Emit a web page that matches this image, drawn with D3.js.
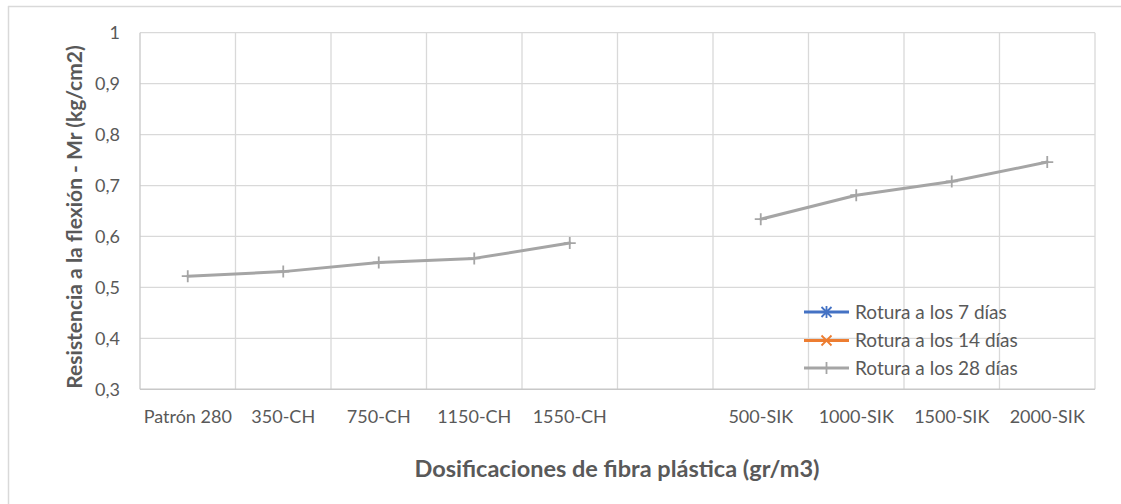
<!DOCTYPE html>
<html>
<head>
<meta charset="utf-8">
<script src="https://cdn.jsdelivr.net/npm/d3@7"></script>
<style>
  html, body { margin: 0; padding: 0; background: #ffffff; }
  svg { display: block; font-family: "Lato", "Noto Sans", sans-serif; }
</style>
</head>
<body>
<svg id="chart" width="1121" height="504"></svg>
<script>
// Dosage categories (an empty slot separates the CH and SIK groups)
const categories = ["Patrón 280", "350-CH", "750-CH", "1150-CH", "1550-CH", "", "500-SIK", "1000-SIK", "1500-SIK", "2000-SIK"];

// Flexural strength Mr (kg/cm2) per break age
const rotura7 = [null, null, null, null, null, null, null, null, null, null];
const rotura14 = [null, null, null, null, null, null, null, null, null, null];
const rotura28 = [0.522, 0.531, 0.549, 0.557, 0.587, null, 0.634, 0.681, 0.708, 0.746];

const seriesNames = ["Rotura a los 7 días", "Rotura a los 14 días", "Rotura a los 28 días"];
const yTicks = [0.3, 0.4, 0.5, 0.6, 0.7, 0.8, 0.9, 1];

const series = [
  { name: seriesNames[0], values: rotura7, color: "#4472c4", marker: "asterisk" },
  { name: seriesNames[1], values: rotura14, color: "#ed7d31", marker: "x" },
  { name: seriesNames[2], values: rotura28, color: "#a5a5a5", marker: "plus" }
];

const svg = d3.select("#chart");
const plot = { left: 140, right: 1095, top: 32.7, bottom: 389.3 };
const textColor = "#595959";
const gridColor = "#d9d9d9";

// chart frame
svg.append("line").attr("x1", 8).attr("x2", 1121).attr("y1", 6.5).attr("y2", 6.5)
  .attr("stroke", "#d9d9d9").attr("stroke-width", 1.5);
svg.append("line").attr("x1", 8.5).attr("x2", 8.5).attr("y1", 6).attr("y2", 504)
  .attr("stroke", "#d9d9d9").attr("stroke-width", 1.5);

const x = d3.scaleBand().domain(categories).range([plot.left, plot.right]).padding(0);
const y = d3.scaleLinear().domain([0.3, 1]).range([plot.bottom, plot.top]);

const locale = d3.formatLocale({ decimal: ",", thousands: ".", grouping: [3], currency: ["", ""] });
const fmt = v => (v === 1 ? "1" : locale.format(".1f")(v));

// horizontal gridlines
svg.append("g").selectAll("line")
  .data(yTicks.filter(t => t > 0.3))
  .join("line")
  .attr("x1", plot.left).attr("x2", plot.right)
  .attr("y1", d => y(d)).attr("y2", d => y(d))
  .attr("stroke", gridColor).attr("stroke-width", 1.3);

// vertical gridlines on category boundaries
const boundaries = categories.slice(1).map(c => x(c)).concat([x.range()[1]]);
svg.append("g").selectAll("line")
  .data(boundaries)
  .join("line")
  .attr("x1", d => d).attr("x2", d => d)
  .attr("y1", plot.top).attr("y2", plot.bottom)
  .attr("stroke", gridColor).attr("stroke-width", 1.3);

// axis lines
svg.append("line").attr("x1", plot.left).attr("x2", plot.left)
  .attr("y1", plot.top).attr("y2", plot.bottom)
  .attr("stroke", "#c8c8c8").attr("stroke-width", 1.3);
svg.append("line").attr("x1", plot.left).attr("x2", plot.right)
  .attr("y1", plot.bottom).attr("y2", plot.bottom)
  .attr("stroke", "#c8c8c8").attr("stroke-width", 1.5);

// y axis labels
const yAxis = svg.append("g").attr("transform", `translate(${plot.left},0)`)
  .call(d3.axisLeft(y).tickValues(yTicks).tickFormat(fmt).tickSize(0).tickPadding(20));
yAxis.select(".domain").remove();
yAxis.selectAll("text").attr("fill", textColor).style("font-size", "18px")
  .style("font-family", "Lato, sans-serif");

// x axis labels
const xAxis = svg.append("g").attr("transform", `translate(0,${plot.bottom})`)
  .call(d3.axisBottom(x).tickSize(0).tickPadding(21));
xAxis.select(".domain").remove();
xAxis.selectAll("text").attr("fill", textColor).style("font-size", "18px")
  .style("font-family", "Lato, sans-serif");

// axis titles
svg.append("text")
  .attr("x", 617).attr("y", 477)
  .attr("text-anchor", "middle")
  .attr("fill", textColor)
  .style("font-size", "23.5px").style("font-weight", "bold")
  .text("Dosificaciones de fibra plástica (gr/m3)");

svg.append("text")
  .attr("transform", "translate(82,217) rotate(-90)")
  .attr("text-anchor", "middle")
  .attr("fill", textColor)
  .style("font-size", "21px").style("font-weight", "bold")
  .text("Resistencia a la flexión - Mr (kg/cm2)");

// marker shapes
function drawMarker(g, kind, cx, cy, color) {
  const r = 6;
  const paths = {
    plus: `M${cx - r},${cy}H${cx + r}M${cx},${cy - r}V${cy + r}`,
    x: `M${cx - 5},${cy - 5}L${cx + 5},${cy + 5}M${cx - 5},${cy + 5}L${cx + 5},${cy - 5}`,
    asterisk: `M${cx - 5},${cy - 5}L${cx + 5},${cy + 5}M${cx - 5},${cy + 5}L${cx + 5},${cy - 5}M${cx},${cy - 6}V${cy + 6}`
  };
  g.append("path").attr("d", paths[kind]).attr("stroke", color)
    .attr("stroke-width", 1.8).attr("fill", "none");
}

// series lines and markers
const line = d3.line()
  .defined(d => d.v != null)
  .x(d => x(d.c) + x.bandwidth() / 2)
  .y(d => y(d.v));

series.forEach(s => {
  const pts = categories.map((c, i) => ({ c, v: s.values[i] }));
  svg.append("path").datum(pts)
    .attr("d", line)
    .attr("fill", "none")
    .attr("stroke", s.color)
    .attr("stroke-width", 3)
    .attr("stroke-linejoin", "round")
    .attr("stroke-linecap", "round");
  const mg = svg.append("g");
  pts.filter(p => p.v != null).forEach(p => {
    drawMarker(mg, s.marker, x(p.c) + x.bandwidth() / 2, y(p.v), s.color);
  });
});

// legend
const legend = svg.append("g");
const legendRows = [312, 340.5, 368];
series.forEach((s, i) => {
  const ly = legendRows[i];
  const row = legend.append("g");
  row.append("line").attr("x1", 804).attr("x2", 849).attr("y1", ly).attr("y2", ly)
    .attr("stroke", s.color).attr("stroke-width", 3);
  drawMarker(row, s.marker, 826.5, ly, s.color);
  row.append("text").attr("x", 855).attr("y", ly).attr("dy", "0.35em")
    .attr("fill", textColor).style("font-size", "19px")
    .text(s.name);
});
</script>
</body>
</html>
